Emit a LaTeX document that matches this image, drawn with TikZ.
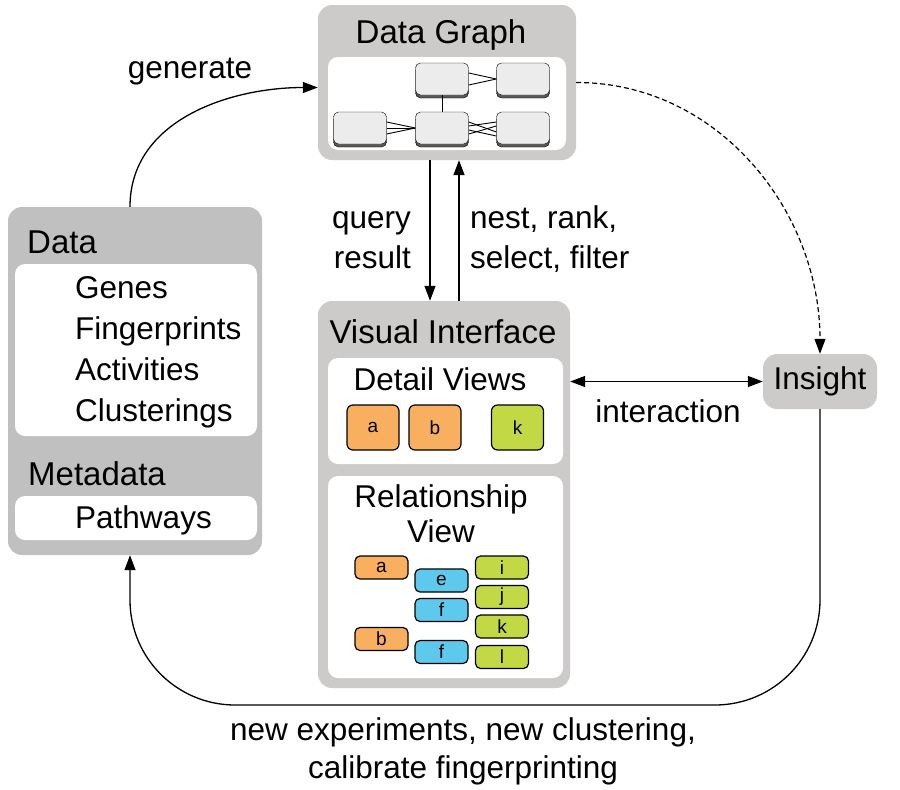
\documentclass[tikz,border=0pt]{standalone}
\usepackage{fontspec}
\setmainfont{Liberation Sans}
\usetikzlibrary{arrows.meta,shadows}
\definecolor{boxgray}{RGB}{205,203,201}
\definecolor{datagray}{RGB}{192,192,192}
\definecolor{itemorange}{RGB}{248,175,96}
\definecolor{itemgreen}{RGB}{194,217,69}
\definecolor{itemblue}{RGB}{93,201,236}
\definecolor{nodegray}{RGB}{236,236,236}

\begin{document}
\begin{tikzpicture}[x=1pt,y=-1pt,
		>={Triangle[length=15pt,width=11pt]},
		box/.style={fill=boxgray,rounded corners=14pt,inner sep=0pt},
		panel/.style={fill=white,rounded corners=10pt,inner sep=0pt},
		txt/.style={font=\fontsize{31.5}{40}\selectfont,inner sep=0pt},
		title/.style={font=\fontsize{33}{40}\selectfont,inner sep=0pt},
		gnode/.style={draw,fill=nodegray,rounded corners=5pt,minimum width=53pt,minimum height=32pt,
			inner sep=0pt,copy shadow={shadow xshift=0pt,shadow yshift=-3pt,fill=gray!70!black}},
		gedge/.style={line width=0.9pt},
		item/.style={draw,line width=1.2pt,rounded corners=6pt,inner sep=0pt,font=\fontsize{19}{19}\selectfont},
		bigitem/.style={item,minimum width=52pt,minimum height=45pt},
		smallitem/.style={item,rounded corners=5pt,minimum width=53pt,minimum height=23pt},
		arr/.style={line width=1.3pt,->}]
		\useasboundingbox (0,0) rectangle (900,790);

		\node[box,minimum width=258pt,minimum height=155pt] (dg) at (447,82.5) {};
		\node[title,anchor=base] (dgt) at (441,43) {Data Graph};
		\node[panel,minimum width=238pt,minimum height=93pt] (dgp) at (447,103.5) {};
		\node[gnode] (g1) at (442,79) {};
		\node[gnode] (g2) at (523,79) {};
		\node[gnode] (g3) at (360,128) {};
		\node[gnode] (g4) at (442,128) {};
		\node[gnode] (g5) at (523,128) {};
		\draw[gedge] ([yshift=6pt]g1.east) -- (g2.west);
		\draw[gedge] ([yshift=-6pt]g1.east) -- (g2.west);
		\draw[gedge] (g1.south) -- (g4.north);
		\foreach \s in {-6,0,6} \draw[gedge] ([yshift=\s pt]g3.east) -- (g4.west);
		\foreach \a/\b in {6/-4,2/6,-2/-8,-6/2} \draw[gedge] ([yshift=\a pt]g4.east) -- ([yshift=\b pt]g5.west);

		\node[box,minimum width=252pt,minimum height=387pt] (vi) at (444,494.5) {};
		\node[title,anchor=base] (vit) at (443,343) {Visual Interface};
		\node[panel,minimum width=235pt,minimum height=106pt] (dv) at (445.5,411) {};
		\node[txt,anchor=base] (dvt) at (440,390) {Detail Views};
		\node[bigitem,fill=itemorange] (da) at (373,427.5) {a};
		\node[bigitem,fill=itemorange] (db) at (435,427.5) {b};
		\node[bigitem,fill=itemgreen] (dk) at (517.5,427.5) {k};
		\node[panel,minimum width=235pt,minimum height=202pt] (rv) at (445.5,577) {};
		\node[txt,anchor=base] (rvt1) at (441,507) {Relationship};
		\node[txt,anchor=base] (rvt2) at (441,542) {View};
		\foreach \n/\x/\y/\c/\l in {ra/381.5/567.5/itemorange/a, rb/381.5/639/itemorange/b,
			re/441.5/580.5/itemblue/e, rf/441.5/610/itemblue/f, rg/441.5/652/itemblue/f,
			ri/502/567.5/itemgreen/i, rj/502/597/itemgreen/j, rk/502/626.5/itemgreen/k, rl/502/657/itemgreen/l}
			\node[smallitem,fill=\c] (\n) at (\x,\y) {\l};

		\node[box,fill=datagray,minimum width=254pt,minimum height=348pt] (data) at (135,381) {};
		\node[title,anchor=base west] (datat) at (27,253) {Data};
		\node[panel,minimum width=242pt,minimum height=172pt] (dl) at (136,350) {};
		\foreach \t/\y in {Genes/298,Fingerprints/339,Activities/380,Clusterings/421}
			\node[txt,anchor=base west] (\t) at (75,\y) {\t};
		\node[title,anchor=base west] (metat) at (28,485) {Metadata};
		\node[panel,minimum width=242pt,minimum height=44pt] (ml) at (136,518) {};
		\node[txt,anchor=base west] (path) at (75,528) {Pathways};

		\node[box,txt,minimum width=114pt,minimum height=55pt] (ins) at (820,381.5) {Insight};

		\coordinate (qx) at (430,0);
		\coordinate (nx) at (459,0);
		\draw[arr] (dg.south -| qx) -- (vi.north -| qx);
		\draw[arr] (vi.north -| nx) -- (dg.south -| nx);
		\node[txt,anchor=base east] (q1) at (411,228) {query};
		\node[txt,anchor=base east] (q2) at (411,268) {result};
		\node[txt,anchor=base west] (n1) at (470,228) {nest, rank,};
		\node[txt,anchor=base west] (n2) at (470,268) {select, filter};

		\draw[arr,<->] (vi.east |- ins.west) -- (ins.west);
		\node[txt,anchor=base] (inter) at (668,422) {interaction};

		\draw[arr,line width=1.2pt,dash pattern=on 5pt off 3pt] (dg.east) to[out=0,in=90] (ins.north);

		\draw[arr] ([xshift=-5pt]data.north) to[out=90,in=180] ([yshift=-5pt]dg.west);
		\node[txt,anchor=base] (gen) at (190,78) {generate};

		\coordinate (low) at (475,705);
		\draw[arr,rounded corners=105pt] (ins.south) |- (low) -| ([xshift=-5pt]data.south);
		\node[txt,anchor=base] (ne1) at (463,740) {new experiments, new clustering,};
		\node[txt,anchor=base] (ne2) at (463,778) {calibrate fingerprinting};
	\end{tikzpicture}
\end{document}
